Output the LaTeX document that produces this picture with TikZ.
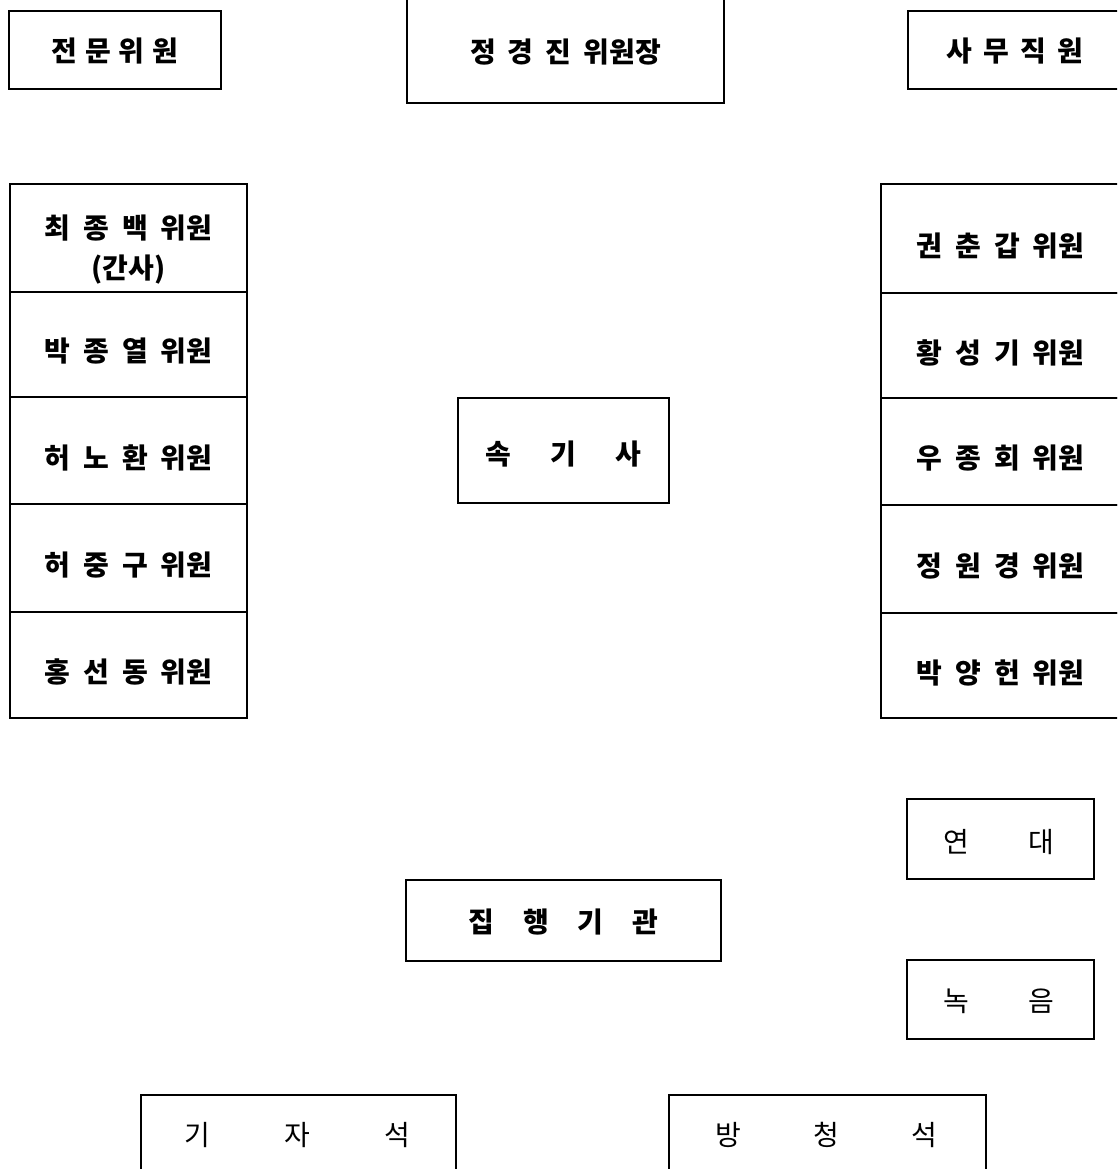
\documentclass[tikz,border=0pt]{standalone}
\usepackage{fontspec}
\setmainfont{Noto Sans CJK KR}
\newcommand\gp[1]{\hspace{#1pt}}
\tikzset{
  box/.style={draw=black, line width=1.6pt, rectangle, inner sep=0pt},
  lblb/.style={font=\fontsize{28}{40}\selectfont\bfseries, inner sep=0pt, align=center},
  lblr/.style={font=\fontsize{28}{40}\selectfont, inner sep=0pt, align=center}
}
\begin{document}
\begin{tikzpicture}[x=1pt,y=-1pt]
\useasboundingbox (0,0) rectangle (1117,1169);
\clip (0,0) rectangle (1117,1169);
\fill[white] (0,0) rectangle (1117,1169);

% top row
\node[box, minimum width=212, minimum height=78] (jeonmun) at (115,50) {};
\node[lblb] (tjeonmun) at (115,51.5) {전\gp{8}문\gp{8}위\gp{8}원};
\node[box, minimum width=317, minimum height=105] (chair) at (565.5,50.5) {};
\node[lblb] (tchair) at (565.5,52) {정\gp{12}경\gp{12}진\gp{12}위원장};
\node[box, minimum width=214, minimum height=78] (samu) at (1015,50) {};
\node[lblb] (tsamu) at (1015,51.5) {사\gp{11}무\gp{11}직\gp{11}원};

% left column
\node[box, minimum width=237, minimum height=108] (l1) at (128.5,238) {};
\node[box, minimum width=237, minimum height=105] (l2) at (128.5,344.5) {};
\node[box, minimum width=237, minimum height=107] (l3) at (128.5,450.5) {};
\node[box, minimum width=237, minimum height=108] (l4) at (128.5,558) {};
\node[box, minimum width=237, minimum height=106] (l5) at (128.5,665) {};
\node[lblb] (tl1) at (128.5,250) {최\gp{13}종\gp{13}백\gp{13}위원\\(간사)};
\node[lblb] (tl2) at (128.5,351.5) {박\gp{13}종\gp{13}열\gp{13}위원};
\node[lblb] (tl3) at (128.5,457.5) {허\gp{13}노\gp{13}환\gp{13}위원};
\node[lblb] (tl4) at (128.5,565) {허\gp{13}중\gp{13}구\gp{13}위원};
\node[lblb] (tl5) at (128.5,672) {홍\gp{13}선\gp{13}동\gp{13}위원};

% right column
\node[box, minimum width=239, minimum height=109] (r1) at (1000.5,238.5) {};
\node[box, minimum width=239, minimum height=105] (r2) at (1000.5,345.5) {};
\node[box, minimum width=239, minimum height=107] (r3) at (1000.5,451.5) {};
\node[box, minimum width=239, minimum height=108] (r4) at (1000.5,559) {};
\node[box, minimum width=239, minimum height=105] (r5) at (1000.5,665.5) {};
\node[lblb] (tr1) at (1000.5,245.5) {권\gp{13}춘\gp{13}갑\gp{13}위원};
\node[lblb] (tr2) at (1000.5,352.5) {황\gp{13}성\gp{13}기\gp{13}위원};
\node[lblb] (tr3) at (1000.5,458.5) {우\gp{13}종\gp{13}회\gp{13}위원};
\node[lblb] (tr4) at (1000.5,566) {정\gp{13}원\gp{13}경\gp{13}위원};
\node[lblb] (tr5) at (1000.5,672.5) {박\gp{13}양\gp{13}헌\gp{13}위원};

% center
\node[box, minimum width=211, minimum height=105] (sokgi) at (563.5,450.5) {};
\node[lblb] (tsokgi) at (563.5,454) {속\gp{39}기\gp{39}사};

% lower right
\node[box, minimum width=187, minimum height=80] (yeondae) at (1000.5,839) {};
\node[lblr] (tyeondae) at (998.5,842) {연\gp{59}대};
\node[box, minimum width=187, minimum height=79] (nogeum) at (1000.5,999.5) {};
\node[lblr] (tnogeum) at (998.5,1001) {녹\gp{59}음};

% executive
\node[box, minimum width=315, minimum height=81] (jiphaeng) at (563.5,920.5) {};
\node[lblb] (tjiphaeng) at (563.5,922) {집\gp{29}행\gp{29}기\gp{29}관};

% bottom
\node[box, minimum width=315, minimum height=85] (gija) at (298.5,1137.5) {};
\node[lblr] (tgija) at (297.5,1135) {기\gp{74}자\gp{74}석};
\node[box, minimum width=317, minimum height=85] (bangcheong) at (827.5,1137.5) {};
\node[lblr] (tbangcheong) at (826.5,1135) {방\gp{72}청\gp{72}석};
\end{tikzpicture}
\end{document}
